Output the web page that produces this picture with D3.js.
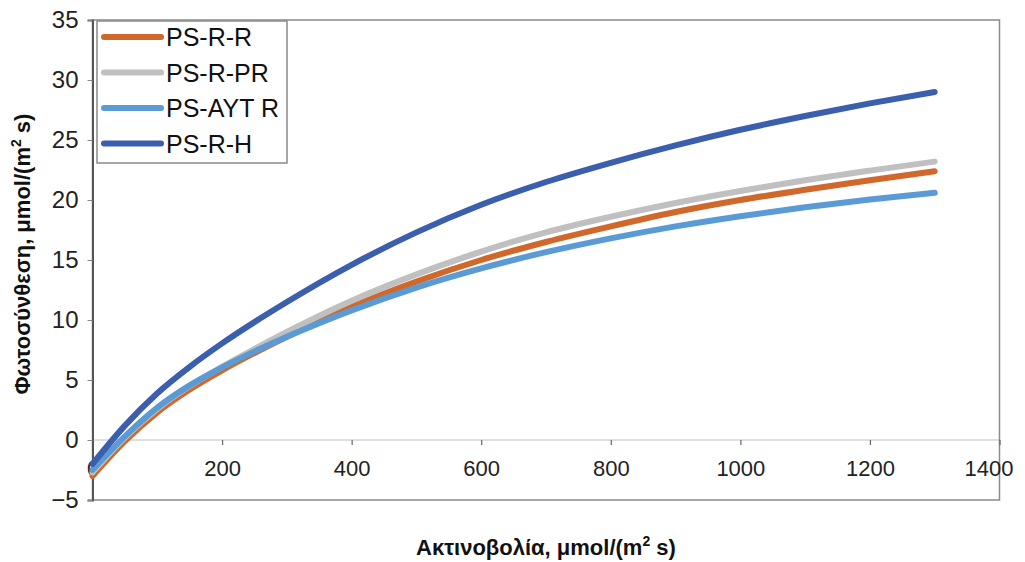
<!DOCTYPE html>
<html><head><meta charset="utf-8">
<script src="https://cdn.jsdelivr.net/npm/d3@7"></script>
<style>
html,body{margin:0;padding:0;background:#fff;}
svg{display:block;font-family:"Liberation Sans",Arial,sans-serif;}
</style></head>
<body><svg id="c" width="1025" height="562"></svg>
<script>
// Data
const irradiance = [0, 50, 100, 150, 200, 300, 400, 500, 600, 700, 800, 900, 1000, 1100, 1200, 1300];
const psRR   = [-3.0, -0.1, 2.3, 4.2, 5.8, 8.6, 11.1, 13.2, 15.0, 16.5, 17.8, 19.0, 20.0, 20.85, 21.65, 22.4];
const psRPR  = [-2.7, 0.2, 2.6, 4.5, 6.1, 9.0, 11.6, 13.8, 15.7, 17.3, 18.6, 19.75, 20.75, 21.65, 22.45, 23.2];
const psAYTR = [-2.5, 0.3, 2.7, 4.55, 6.05, 8.6, 10.8, 12.7, 14.3, 15.65, 16.8, 17.8, 18.65, 19.4, 20.05, 20.6];
const psRH   = [-2.0, 1.2, 3.9, 6.1, 8.05, 11.5, 14.6, 17.3, 19.6, 21.5, 23.1, 24.55, 25.85, 27.0, 28.05, 29.0];
const seriesNames = ["PS-R-R", "PS-R-PR", "PS-AYT R", "PS-R-H"];
const seriesValues = [psRR, psRPR, psAYTR, psRH];
const seriesColors = ["#D0682C", "#C0C0C0", "#5B9BD5", "#3B5EAD"];
const xTicks = [0, 200, 400, 600, 800, 1000, 1200, 1400];
const yTicks = [-5, 0, 5, 10, 15, 20, 25, 30, 35];
const xTitle = "Ακτινοβολία, μmol/(m";
const yTitle = "Φωτοσύνθεση, μmol/(m";

const svg = d3.select("#c");
const L = 92.5, R = 999.5, T = 20, B = 500;
const x = d3.scaleLinear().domain([0, 1400]).range([L, R]);
const y = d3.scaleLinear().domain([-5, 35]).range([B, T]);

// zero gridline / category axis line
svg.append("line").attr("x1", L).attr("x2", R).attr("y1", y(0)).attr("y2", y(0))
  .attr("stroke", "#d4d4d4").attr("stroke-width", 1.5);

// plot border
svg.append("rect").attr("x", L).attr("y", T).attr("width", R - L).attr("height", B - T)
  .attr("fill", "none").attr("stroke", "#8a8a8a").attr("stroke-width", 1.5);

// x axis ticks (on zero line, pointing down) and labels below
const xAx = svg.append("g").attr("transform", `translate(0,${y(0)})`)
  .call(d3.axisBottom(x).tickValues(xTicks).tickSize(5).tickFormat(d3.format("d")));
xAx.select(".domain").remove();
xAx.selectAll(".tick line").attr("stroke", "#666").attr("stroke-width", 1.2);
xAx.selectAll(".tick text").attr("font-size", 22).attr("fill", "#222")
  .attr("font-family", "'Liberation Sans',Arial,sans-serif").attr("y", 0).attr("dy", "1.65em")
  .attr("dx", d => d === 1400 ? -11 : 0);

// y axis
const yAx = svg.append("g").attr("transform", `translate(${L},0)`)
  .call(d3.axisLeft(y).tickValues(yTicks).tickSize(5).tickPadding(9));
yAx.select(".domain").attr("stroke", "#555").attr("stroke-width", 2);
yAx.selectAll(".tick line").attr("stroke", "#888");
yAx.selectAll(".tick text").attr("font-size", 24).attr("fill", "#222")
  .attr("font-family", "'Liberation Sans',Arial,sans-serif");

// lines
const line = d3.line().x((d, i) => x(irradiance[i])).y(d => y(d)).curve(d3.curveMonotoneX);
svg.append("g").selectAll("path").data(seriesValues).join("path")
  .attr("d", d => line(d)).attr("fill", "none")
  .attr("stroke", (d, i) => seriesColors[i]).attr("stroke-width", 6)
  .attr("stroke-linecap", "round").attr("stroke-linejoin", "round");

// legend
const lg = svg.append("g");
lg.append("rect").attr("x", 97).attr("y", 21).attr("width", 190).attr("height", 142)
  .attr("fill", "#fff").attr("stroke", "#8a8a8a").attr("stroke-width", 1.5);
const rowY = [37, 72.5, 108, 143.5];
seriesNames.forEach((n, i) => {
  lg.append("line").attr("x1", 104).attr("x2", 161).attr("y1", rowY[i]).attr("y2", rowY[i])
    .attr("stroke", seriesColors[i]).attr("stroke-width", 6).attr("stroke-linecap", "round");
  lg.append("text").attr("x", 166).attr("y", rowY[i]).attr("dy", "0.36em")
    .attr("font-size", 25).attr("fill", "#111").text(n);
});

// axis titles
const xt = svg.append("text").attr("x", 546).attr("y", 555).attr("text-anchor", "middle")
  .attr("font-size", 22).attr("font-weight", "bold").attr("fill", "#111")
  .attr("font-family", "'Liberation Sans Narrow','Liberation Sans',Arial,sans-serif");
xt.append("tspan").text(xTitle);
xt.append("tspan").attr("font-size", 14).attr("dy", -9).text("2");
xt.append("tspan").attr("dy", 9).text(" s)");

const yt = svg.append("text").attr("transform", "translate(30,254) rotate(-90)").attr("text-anchor", "middle")
  .attr("font-size", 22).attr("font-weight", "bold").attr("fill", "#111")
  .attr("font-family", "'Liberation Sans Narrow','Liberation Sans',Arial,sans-serif");
yt.append("tspan").text(yTitle);
yt.append("tspan").attr("font-size", 14).attr("dy", -9).text("2");
yt.append("tspan").attr("dy", 9).text(" s)");
</script></body></html>
